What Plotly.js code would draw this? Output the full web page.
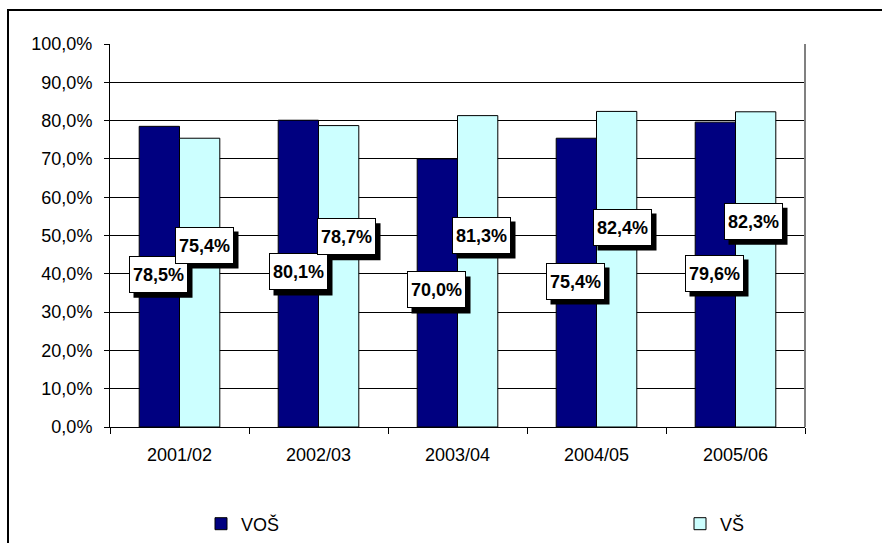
<!DOCTYPE html>
<html>
<head>
<meta charset="utf-8">
<script src="https://cdn.plot.ly/plotly-3.0.1.min.js"></script>
<style>
html,body{margin:0;padding:0;background:#fff;}
#chart{width:882px;height:543px;}
</style>
</head>
<body>
<div id="chart"></div>
<script>
// ---- data ----
var categories = ["2001/02", "2002/03", "2003/04", "2004/05", "2005/06"];
var seriesNames = ["VOŠ", "VŠ"];
var vosValues = [78.5, 80.1, 70.0, 75.4, 79.6];
var vsValues = [75.4, 78.7, 81.3, 82.4, 82.3];
var yTickValues = [0, 10, 20, 30, 40, 50, 60, 70, 80, 90, 100];

// ---- label placement (layout only) ----
var vosLabelY = [39.9, 40.5, 35.8, 38.1, 40.2];
var vsLabelY = [47.5, 49.7, 50.1, 52.2, 53.7];
var vosLabelDx = [-21.5, -20.5, -21.5, -21.5, -21.5];
var vsLabelDx = [24.5, 27.5, 23.5, 25.5, 17.5];

function fmt(v) { return v.toFixed(1).replace('.', ',') + '%'; }

var FONT = "Liberation Sans, Arial, sans-serif";

var traces = [
  {
    type: 'bar', name: seriesNames[0], x: categories, y: vosValues, legend: 'legend',
    marker: {color: '#000080', line: {color: '#000000', width: 1}},
    hoverinfo: 'none'
  },
  {
    type: 'bar', name: seriesNames[1], x: categories, y: vsValues, legend: 'legend2',
    marker: {color: '#CCFFFF', line: {color: '#000000', width: 1}},
    hoverinfo: 'none'
  }
];

var BW = 59, BH = 37, SH = 5;
var annotations = [];
var shapes = [];
function addLabel(cat, y, dx, text) {
  // drop shadow
  shapes.push({
    type: 'rect', xref: 'x', yref: 'y',
    xsizemode: 'pixel', ysizemode: 'pixel', xanchor: cat, yanchor: y,
    x0: dx + SH - BW / 2, x1: dx + SH + BW / 2,
    y0: -SH - BH / 2, y1: -SH + BH / 2,
    fillcolor: '#000000', line: {width: 0}, layer: 'above'
  });
  annotations.push({
    x: cat, y: y, xref: 'x', yref: 'y', text: '<b>' + text + '</b>', showarrow: false,
    xshift: dx, yshift: 0, width: BW - 2, height: BH - 2,
    bgcolor: '#FFFFFF', bordercolor: '#000000', borderwidth: 1, borderpad: 0,
    font: {family: FONT, size: 18, color: '#000000'}
  });
}
for (var i = 0; i < categories.length; i++) {
  addLabel(categories[i], vosLabelY[i], vosLabelDx[i], fmt(vosValues[i]));
  addLabel(categories[i], vsLabelY[i], vsLabelDx[i], fmt(vsValues[i]));
}

shapes.push(
  {type: 'line', xref: 'paper', yref: 'paper', x0: 1, x1: 1, y0: 0, y1: 1,
   line: {color: '#808080', width: 2}, layer: 'above'},
  {type: 'rect', xref: 'paper', yref: 'paper',
   x0: (8 - 110) / 695, x1: 2, y0: (427 - 10) / 383, y1: -2,
   line: {color: '#000000', width: 2}, fillcolor: 'rgba(0,0,0,0)', layer: 'above'}
);

var legendCommon = {
  orientation: 'h', xref: 'container', yref: 'container',
  xanchor: 'left', yanchor: 'middle',
  font: {family: FONT, size: 18, color: '#000000'},
  bgcolor: 'rgba(0,0,0,0)', borderwidth: 0
};

var layout = {
  width: 882, height: 543,
  margin: {l: 110, r: 77, t: 44, b: 116, pad: 0},
  paper_bgcolor: '#FFFFFF', plot_bgcolor: '#FFFFFF',
  separators: ', ',
  font: {family: FONT, size: 18, color: '#000000'},
  barmode: 'group', bargap: 0.42, bargroupgap: 0,
  showlegend: true,
  legend: Object.assign({}, legendCommon, {x: 201 / 882, y: 0.035}),
  legend2: Object.assign({}, legendCommon, {x: 680 / 882, y: 0.035}),
  xaxis: {
    type: 'category', showline: true, linecolor: '#000000', linewidth: 1,
    ticks: 'outside', tickson: 'boundaries', ticklen: 6, tickcolor: '#000000', tickwidth: 1,
    showgrid: false, zeroline: false,
    tickfont: {family: FONT, size: 18, color: '#000000'},
    ticklabelstandoff: 11
  },
  yaxis: {
    range: [0, 100], tickmode: 'array', tickvals: yTickValues,
    ticktext: yTickValues.map(fmt),
    showline: true, linecolor: '#000000', linewidth: 1,
    ticks: 'outside', ticklen: 5, tickcolor: '#000000', tickwidth: 1,
    showgrid: true, gridcolor: '#000000', gridwidth: 1, zeroline: false,
    tickfont: {family: FONT, size: 18, color: '#000000'},
    ticklabelstandoff: 8
  },
  annotations: annotations,
  shapes: shapes
};

Plotly.newPlot('chart', traces, layout, {staticPlot: true, displayModeBar: false});
</script>
</body>
</html>
